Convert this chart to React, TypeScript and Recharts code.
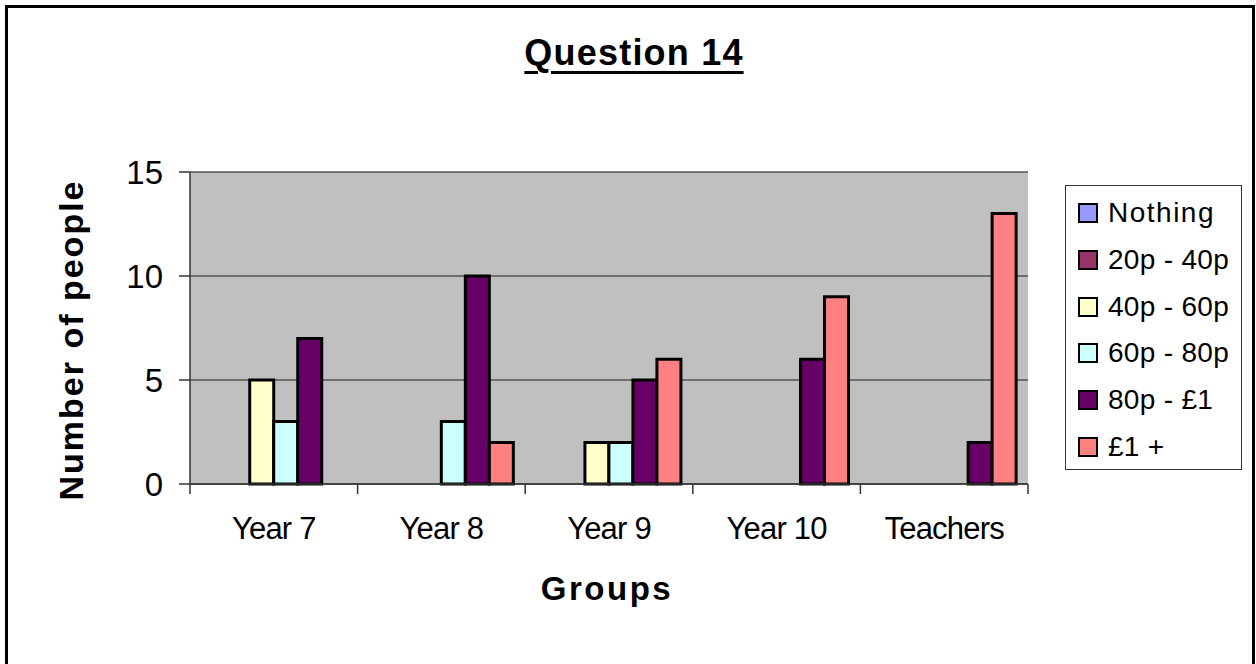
import { BarChart, Bar, XAxis, YAxis, CartesianGrid } from "recharts";

const groups = ["Year 7", "Year 8", "Year 9", "Year 10", "Teachers"];
const nothing = [0, 0, 0, 0, 0];
const p20to40 = [0, 0, 0, 0, 0];
const p40to60 = [5, 0, 2, 0, 0];
const p60to80 = [3, 3, 2, 0, 0];
const p80to1 = [7, 10, 5, 6, 2];
const over1 = [0, 2, 6, 9, 13];
const yTicks = [0, 5, 10, 15];

const series = [
  { key: "nothing", name: "Nothing", color: "#9999FF", values: nothing },
  { key: "p20to40", name: "20p - 40p", color: "#993366", values: p20to40 },
  { key: "p40to60", name: "40p - 60p", color: "#FFFFCC", values: p40to60 },
  { key: "p60to80", name: "60p - 80p", color: "#CCFFFF", values: p60to80 },
  { key: "p80to1", name: "80p - £1", color: "#660066", values: p80to1 },
  { key: "over1", name: "£1 +", color: "#FF8080", values: over1 },
];

const data = groups.map((g, i) => {
  const row: Record<string, string | number> = { group: g };
  series.forEach((s) => (row[s.key] = s.values[i]));
  return row;
});

const FONT = "Arial, 'Liberation Sans', sans-serif";

// category label plus tick marks on the group boundaries (Excel style)
const GroupTick = (props: any) => {
  const { x, y, payload, index, visibleTicksCount } = props;
  const half = payload?.offset ?? 0;
  const last = index === visibleTicksCount - 1;
  return (
    <g>
      <line x1={x - half} x2={x - half} y1={y} y2={y + 10} stroke="#333" strokeWidth={1.5} />
      {last && <line x1={x + half} x2={x + half} y1={y} y2={y + 10} stroke="#333" strokeWidth={1.5} />}
      <text x={x} y={y + 33} dy="0.71em" textAnchor="middle" fontSize={31} fontFamily={FONT} letterSpacing={-0.8} fill="#000">
        {payload.value}
      </text>
    </g>
  );
};

export default function App() {
  return (
    <div style={{ position: "absolute", left: 0, top: 0, width: 1256, height: 664, background: "#fff", overflow: "hidden", fontFamily: FONT }}>
      {/* outer chart frame */}
      <div style={{ position: "absolute", left: 5, top: 5, width: 1244, height: 700, border: "3px solid #000" }} />

      <div
        style={{
          position: "absolute", left: 634, top: 35, transform: "translateX(-50%)",
          fontSize: 36, lineHeight: "36px", fontWeight: "bold", letterSpacing: 1.2,
          textDecoration: "underline", textDecorationThickness: 3, textUnderlineOffset: 6,
          whiteSpace: "nowrap",
        }}
      >
        Question 14
      </div>

      <BarChart
        width={1256}
        height={664}
        data={data}
        margin={{ top: 172, right: 228, bottom: 80, left: 0 }}
        barCategoryGap="7%"
        barGap={0}
        style={{ position: "absolute", left: 0, top: 0 }}
      >
        <CartesianGrid fill="#C0C0C0" vertical={false} stroke="#555" strokeWidth={1.5} />
        <XAxis
          dataKey="group"
          height={100}
          tickLine={false}
          tickSize={0}
          tickMargin={0}
          interval={0}
          axisLine={{ stroke: "#333", strokeWidth: 1.5 }}
          tick={<GroupTick />}
        />
        <YAxis
          width={190}
          domain={[0, 15]}
          ticks={yTicks}
          tickSize={11}
          tickMargin={16}
          axisLine={{ stroke: "#333", strokeWidth: 1.5 }}
          tickLine={{ stroke: "#333", strokeWidth: 1.5 }}
          tick={{ fill: "#000", fontSize: 33, fontFamily: FONT }}
        />
        <YAxis
          yAxisId="frame"
          orientation="right"
          width={0}
          domain={[0, 15]}
          tick={false}
          tickLine={false}
          axisLine={{ stroke: "#808080", strokeWidth: 2 }}
        />
        {series.map((s) => (
          <Bar key={s.key} dataKey={s.key} name={s.name} fill={s.color} stroke="#000" strokeWidth={3} isAnimationActive={false} />
        ))}
      </BarChart>

      <svg width={1256} height={664} style={{ position: "absolute", left: 0, top: 0, pointerEvents: "none" }}>
        <text
          transform="translate(83, 340) rotate(-90)"
          textAnchor="middle"
          fontSize={34}
          fontWeight="bold"
          letterSpacing={2}
          fontFamily={FONT}
          fill="#000"
        >
          Number of people
        </text>
        <text x={607} y={600} textAnchor="middle" fontSize={33} fontWeight="bold" letterSpacing={2.5} fontFamily={FONT} fill="#000">
          Groups
        </text>
      </svg>

      {/* legend */}
      <div
        style={{
          position: "absolute", left: 1065, top: 185, width: 177, height: 285,
          border: "1px solid #333", background: "#fff", boxSizing: "border-box", paddingTop: 4,
        }}
      >
        {series.map((s) => (
          <div key={s.key} style={{ display: "flex", alignItems: "center", height: 46.7, paddingLeft: 12 }}>
            <span style={{ width: 16, height: 16, background: s.color, border: "2px solid #000", marginRight: 10, flexShrink: 0 }} />
            <span style={{ fontSize: 28, lineHeight: "28px", letterSpacing: s.name === "Nothing" ? 1.5 : 0.3, whiteSpace: "nowrap" }}>{s.name}</span>
          </div>
        ))}
      </div>
    </div>
  );
}
